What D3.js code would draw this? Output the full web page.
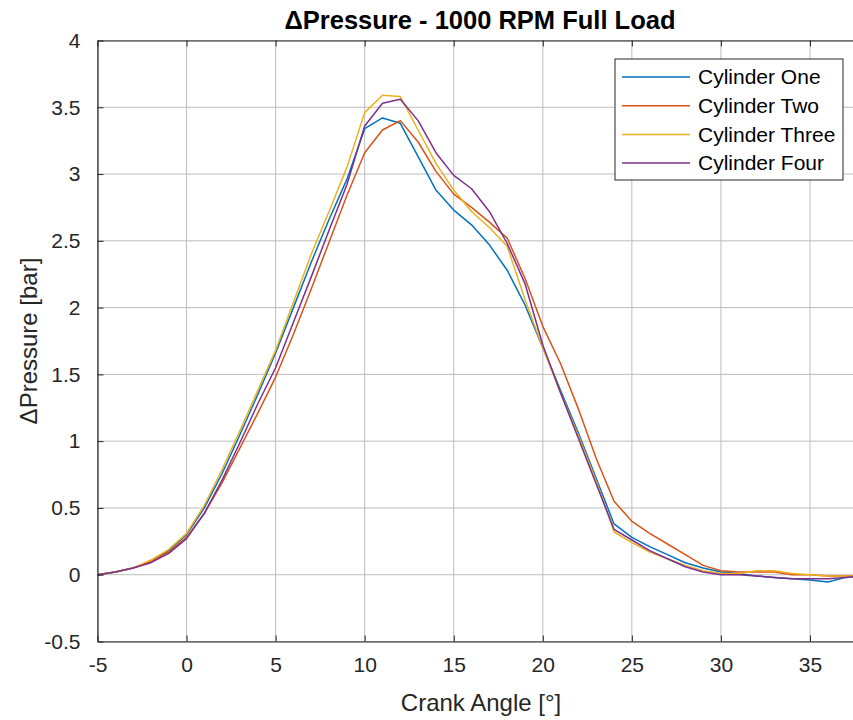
<!DOCTYPE html>
<html>
<head>
<meta charset="utf-8">
<script src="https://cdn.jsdelivr.net/npm/d3@7"></script>
<style>
  body { margin: 0; background: #fff; }
  svg { display: block; font-family: "Liberation Sans", Arial, sans-serif; }
</style>
</head>
<body>
<div id="chart"></div>
<script>
var width = 853;
var height = 720;

// crank angle in degrees
var angles = d3.range(-5, 39);

var cylOne = [0, 0.02, 0.05, 0.10, 0.18, 0.30, 0.50, 0.76, 1.05, 1.35, 1.66, 2.00, 2.34, 2.66, 2.96, 3.34, 3.42, 3.38, 3.13, 2.88,
  2.73, 2.62, 2.47, 2.28, 2.02, 1.70, 1.38, 1.06, 0.72, 0.38, 0.28, 0.21, 0.15, 0.09, 0.05, 0.02, 0.01, -0.01, -0.02, -0.03,
  -0.04, -0.055, -0.02, -0.01];
var cylTwo = [0, 0.02, 0.05, 0.10, 0.17, 0.28, 0.46, 0.69, 0.95, 1.21, 1.48, 1.80, 2.14, 2.49, 2.84, 3.16, 3.33, 3.40, 3.24, 3.02,
  2.85, 2.75, 2.64, 2.52, 2.22, 1.86, 1.58, 1.24, 0.87, 0.55, 0.40, 0.31, 0.23, 0.15, 0.07, 0.03, 0.02, 0.02, 0.02, 0.00,
  0.00, -0.01, -0.01, -0.01];
var cylThree = [0, 0.02, 0.05, 0.11, 0.19, 0.31, 0.52, 0.79, 1.08, 1.38, 1.68, 2.04, 2.40, 2.72, 3.05, 3.46, 3.59, 3.58, 3.33, 3.08,
  2.88, 2.72, 2.60, 2.46, 2.06, 1.70, 1.36, 1.04, 0.70, 0.32, 0.24, 0.17, 0.12, 0.07, 0.03, 0.01, 0.01, 0.03, 0.03, 0.01,
  0.00, -0.01, -0.01, -0.01];
var cylFour = [0, 0.02, 0.05, 0.09, 0.16, 0.27, 0.46, 0.71, 0.99, 1.28, 1.55, 1.89, 2.23, 2.58, 2.92, 3.36, 3.53, 3.56, 3.40, 3.16,
  2.99, 2.89, 2.72, 2.48, 2.18, 1.72, 1.36, 1.02, 0.68, 0.34, 0.26, 0.18, 0.12, 0.06, 0.02, 0.00, 0.00, -0.01, -0.02, -0.03,
  -0.03, -0.03, -0.02, -0.01];

var seriesNames = ["Cylinder One", "Cylinder Two", "Cylinder Three", "Cylinder Four"];
var seriesColors = ["#0072BD", "#D95319", "#EDB120", "#7E2F8E"];
var xTicks = [-5, 0, 5, 10, 15, 20, 25, 30, 35];
var yTicks = [-0.5, 0, 0.5, 1, 1.5, 2, 2.5, 3, 3.5, 4];

var series = [cylOne, cylTwo, cylThree, cylFour].map(function (vals, i) {
  return { name: seriesNames[i], color: seriesColors[i],
    points: vals.map(function (v, j) { return { x: angles[j], y: v }; }) };
});

var plotLeft = 97.5, plotRight = 854.5, plotTop = 40.5, plotBottom = 641.5;
var axisColor = "#262626";
var fmt = function (d) { return String(d); }; // plain hyphen minus like matlab

var x = d3.scaleLinear().domain([-5, 37.5]).range([plotLeft, plotRight]);
var y = d3.scaleLinear().domain([-0.5, 4]).range([plotBottom, plotTop]);

var svg = d3.select("#chart")
  .append("svg")
  .attr("width", width)
  .attr("height", height);

svg.append("defs").append("clipPath").attr("id", "plotclip")
  .append("rect")
  .attr("x", plotLeft).attr("y", plotTop)
  .attr("width", plotRight - plotLeft).attr("height", plotBottom - plotTop);

// grid
var grid = svg.append("g").attr("class", "grid")
  .attr("stroke", "#bdbdbd").attr("stroke-width", 1);
grid.selectAll("line.gx").data(xTicks).enter().append("line")
  .attr("x1", function (d) { return x(d); }).attr("x2", function (d) { return x(d); })
  .attr("y1", plotTop).attr("y2", plotBottom);
grid.selectAll("line.gy").data(yTicks).enter().append("line")
  .attr("y1", function (d) { return y(d); }).attr("y2", function (d) { return y(d); })
  .attr("x1", plotLeft).attr("x2", plotRight);

// lines
var line = d3.line()
  .x(function (d) { return x(d.x); })
  .y(function (d) { return y(d.y); });

svg.append("g").attr("clip-path", "url(#plotclip)")
  .selectAll("path")
  .data(series)
  .enter().append("path")
  .attr("fill", "none")
  .attr("stroke", function (d) { return d.color; })
  .attr("stroke-width", 1.5)
  .attr("stroke-linejoin", "round")
  .attr("d", function (d) { return line(d.points); });

// axes, ticks pointing inward
var xAxis = svg.append("g").attr("transform", "translate(0," + plotBottom + ")")
  .call(d3.axisBottom(x).tickValues(xTicks).tickFormat(fmt).tickSizeInner(-6).tickSizeOuter(0).tickPadding(16));
var xAxisTop = svg.append("g").attr("transform", "translate(0," + plotTop + ")")
  .call(d3.axisTop(x).tickValues(xTicks).tickSizeInner(-6).tickSizeOuter(0).tickFormat(""));
var yAxis = svg.append("g").attr("transform", "translate(" + plotLeft + ",0)")
  .call(d3.axisLeft(y).tickValues(yTicks).tickFormat(fmt).tickSizeInner(-6).tickSizeOuter(0).tickPadding(17));

[xAxis, xAxisTop, yAxis].forEach(function (g) {
  g.select(".domain").attr("stroke", axisColor).attr("stroke-width", 1.2);
  g.selectAll(".tick line").attr("stroke", axisColor);
  g.selectAll(".tick text")
    .attr("fill", axisColor)
    .style("font-size", "21px")
    .style("font-family", "'Liberation Sans', Arial, sans-serif");
});

// right border (sits at the edge of the picture)
svg.append("line")
  .attr("x1", plotRight).attr("x2", plotRight).attr("y1", plotTop).attr("y2", plotBottom)
  .attr("stroke", axisColor).attr("stroke-width", 1.2);

// title and labels
svg.append("text")
  .attr("x", 480).attr("y", 29)
  .attr("text-anchor", "middle")
  .attr("fill", "#000")
  .style("font-size", "25.5px")
  .style("font-weight", "bold")
  .text("\u0394Pressure - 1000 RPM Full Load");

svg.append("text")
  .attr("x", 481).attr("y", 711)
  .attr("text-anchor", "middle")
  .attr("fill", axisColor)
  .style("font-size", "24px")
  .text("Crank Angle [\u00b0]");

svg.append("text")
  .attr("transform", "translate(37," + ((plotTop + plotBottom) / 2) + ") rotate(-90)")
  .attr("text-anchor", "middle")
  .attr("fill", axisColor)
  .style("font-size", "24px")
  .text("\u0394Pressure [bar]");

// legend
var legend = svg.append("g").attr("transform", "translate(615,59)");
legend.append("rect")
  .attr("width", 228).attr("height", 121)
  .attr("fill", "#fff")
  .attr("stroke", axisColor).attr("stroke-width", 1);

var rows = legend.selectAll("g.row")
  .data(series)
  .enter().append("g")
  .attr("transform", function (d, i) { return "translate(0," + (18 + i * 28.7) + ")"; });
rows.append("line")
  .attr("x1", 7).attr("x2", 75)
  .attr("stroke", function (d) { return d.color; })
  .attr("stroke-width", 1.5);
rows.append("text")
  .attr("x", 83).attr("dy", "0.35em")
  .attr("fill", "#000")
  .style("font-size", "21px")
  .text(function (d) { return d.name; });
</script>
</body>
</html>
